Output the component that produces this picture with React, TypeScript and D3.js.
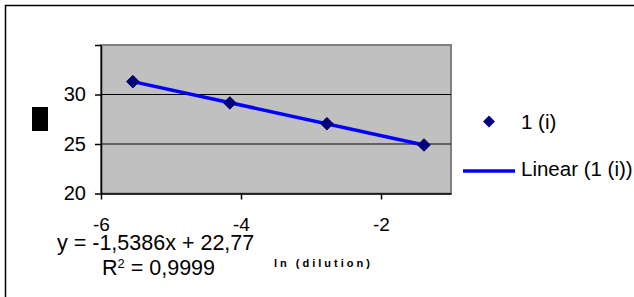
import * as d3 from "d3";
import { useEffect, useRef } from "react";

// ln(dilution) values and measured Ct for series "1 (i)"
const dilutionLn = [-5.545, -4.159, -2.773, -1.386];
const ctValues = [31.3, 29.15, 27.05, 24.9];

// trendline coefficients, as printed on the chart
const slope = -1.5386;
const intercept = 22.77;
const equationLabel = "y = -1,5386x + 22,77";
const r2Label = "0,9999";

const xTicks = [-6, -4, -2];
const yTicks = [20, 25, 30, 35];
const yTickLabels = ["20", "25", "30", ""];
const gridValues = [25, 30];

const seriesName = "1 (i)";
const trendName = "Linear (1 (i))";
const xTitle = "ln (dilution)";

const FONT = "'Liberation Sans', Arial, sans-serif";

export default function App() {
  const svgRef = useRef<SVGSVGElement>(null);

  useEffect(() => {
    if (!svgRef.current) return;
    const svg = d3.select(svgRef.current);
    svg.selectAll("*").remove();

    // Plot area bounds
    const left = 101;
    const right = 451;
    const top = 45;
    const bottom = 193.5;

    const x = d3.scaleLinear().domain([-6, -1]).range([left, right]);
    const y = d3.scaleLinear().domain([20, 35]).range([bottom, top]);

    // Outer chart border (runs off the right and bottom edges)
    svg
      .append("rect")
      .attr("x", 5.5)
      .attr("y", 5.5)
      .attr("width", 700)
      .attr("height", 400)
      .attr("fill", "white")
      .attr("stroke", "black")
      .attr("stroke-width", 1.5);

    // Plot area
    svg
      .append("rect")
      .attr("x", left)
      .attr("y", top)
      .attr("width", right - left)
      .attr("height", bottom - top)
      .attr("fill", "#C0C0C0")
      .attr("stroke", "#808080")
      .attr("stroke-width", 2);

    // Gridlines
    svg
      .selectAll(".grid")
      .data(gridValues)
      .enter()
      .append("line")
      .attr("x1", left)
      .attr("x2", right)
      .attr("y1", (d) => y(d))
      .attr("y2", (d) => y(d))
      .attr("stroke", "black")
      .attr("stroke-width", 1);

    // Y axis
    const yAxis = svg
      .append("g")
      .attr("transform", `translate(${left},0)`)
      .call(
        d3
          .axisLeft(y)
          .tickValues(yTicks)
          .tickSize(6)
          .tickSizeOuter(0)
          .tickPadding(9)
          .tickFormat((_, i) => yTickLabels[i]),
      );
    yAxis.select(".domain").attr("stroke", "black").attr("stroke-width", 1.5);
    yAxis.selectAll("line").attr("stroke", "black").attr("stroke-width", 1.5);
    yAxis
      .selectAll("text")
      .attr("font-family", FONT)
      .attr("font-size", 20)
      .attr("fill", "black");

    // X axis
    const xAxis = svg
      .append("g")
      .attr("transform", `translate(0,${bottom})`)
      .call(
        d3
          .axisBottom(x)
          .tickValues(xTicks)
          .tickSize(6)
          .tickSizeOuter(0)
          .tickPadding(18.5)
          .tickFormat((d) => String(d)),
      );
    xAxis.select(".domain").attr("stroke", "black").attr("stroke-width", 1.5);
    xAxis.selectAll("line").attr("stroke", "black").attr("stroke-width", 1.5);
    xAxis
      .selectAll("text")
      .attr("font-family", FONT)
      .attr("font-size", 19)
      .attr("fill", "black");

    // Trendline across the data range
    const xMin = d3.min(dilutionLn) ?? -6;
    const xMax = d3.max(dilutionLn) ?? -1;
    svg
      .append("line")
      .attr("x1", x(xMin))
      .attr("y1", y(slope * xMin + intercept))
      .attr("x2", x(xMax))
      .attr("y2", y(slope * xMax + intercept))
      .attr("stroke", "#0000FF")
      .attr("stroke-width", 3.5);

    // Data markers
    const diamond = d3.symbol().type(d3.symbolDiamond2).size(100);
    svg
      .selectAll(".pt")
      .data(dilutionLn)
      .enter()
      .append("path")
      .attr("d", diamond)
      .attr("transform", (d, i) => `translate(${x(d)},${y(ctValues[i])})`)
      .attr("fill", "#000080")
      .attr("stroke", "#000050")
      .attr("stroke-width", 1);

    // Mystery y-axis title block
    svg
      .append("rect")
      .attr("x", 32)
      .attr("y", 107)
      .attr("width", 16)
      .attr("height", 24)
      .attr("fill", "black");

    // Equation and R²
    svg
      .append("text")
      .attr("x", 57)
      .attr("y", 250)
      .attr("font-family", FONT)
      .attr("font-size", 21.5)
      .text(equationLabel);

    const r2 = svg
      .append("text")
      .attr("x", 102)
      .attr("y", 275)
      .attr("font-family", FONT)
      .attr("font-size", 21.5);
    r2.append("tspan").text("R");
    r2.append("tspan").attr("font-size", 13).attr("dy", -7).text("2");
    r2.append("tspan").attr("dy", 7).text(` = ${r2Label}`);

    // X axis title
    svg
      .append("text")
      .attr("x", 274)
      .attr("y", 267)
      .attr("font-family", FONT)
      .attr("font-size", 11)
      .attr("font-weight", "bold")
      .attr("letter-spacing", 3)
      .text(xTitle);

    // Legend
    const legend = svg.append("g");
    legend
      .append("path")
      .attr("d", d3.symbol().type(d3.symbolDiamond2).size(90))
      .attr("transform", "translate(489,121.5)")
      .attr("fill", "#000080");
    legend
      .append("text")
      .attr("x", 521)
      .attr("y", 128.5)
      .attr("font-family", FONT)
      .attr("font-size", 20.5)
      .text(seriesName);
    legend
      .append("line")
      .attr("x1", 463)
      .attr("x2", 515)
      .attr("y1", 171)
      .attr("y2", 171)
      .attr("stroke", "#0000FF")
      .attr("stroke-width", 3.5);
    legend
      .append("text")
      .attr("x", 521)
      .attr("y", 176)
      .attr("font-family", FONT)
      .attr("font-size", 20.5)
      .text(trendName);
  }, []);

  return (
    <svg
      ref={svgRef}
      width={634}
      height={297}
      style={{ position: "absolute", left: 0, top: 0, background: "white" }}
    />
  );
}
